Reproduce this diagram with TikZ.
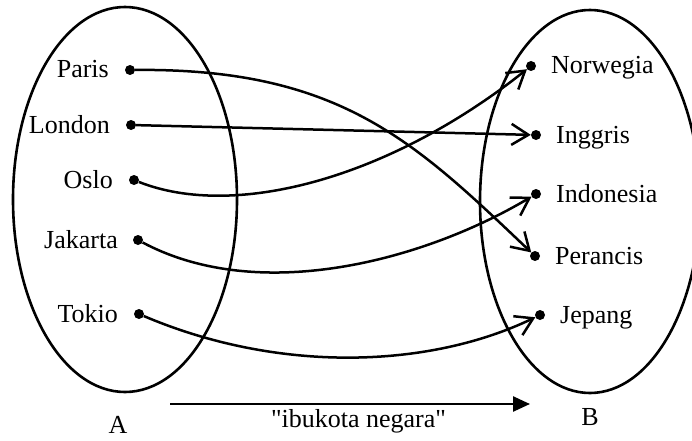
\documentclass[tikz,border=0pt]{standalone}
\usepackage{fontspec}
\newfontfamily\tnr{Liberation Serif}
\usetikzlibrary{arrows.meta}
\begin{document}
\begin{tikzpicture}[x=1pt,y=1pt,
  setline/.style={line width=2.6pt},
  dot/.style={circle,fill=black,inner sep=0pt,minimum size=10pt},
  lbl/.style={font=\tnr\fontsize{26}{30}\selectfont,inner sep=0pt},
  conn/.style={line width=2.5pt,-{Straight Barb[length=17pt,width=21pt]}},
  relarrow/.style={line width=2.5pt,-{Triangle[length=17pt,width=15pt]}}]
\useasboundingbox (0,0) rectangle (692,440);
\clip (0,0) rectangle (692,440);
% sets
\draw[setline] (125,240.5) ellipse [x radius=112, y radius=192.5];
\draw[setline] (590,238.5) ellipse [x radius=110, y radius=191.5];
% domain dots
\node[dot] (paris) at (130,370) {};
\node[dot] (london) at (131,315) {};
\node[dot] (oslo) at (134,260) {};
\node[dot] (jakarta) at (138,200) {};
\node[dot] (tokio) at (139,126) {};
% codomain dots
\node[dot] (norwegia) at (531,374) {};
\node[dot] (inggris) at (536,305) {};
\node[dot] (indonesia) at (536,246) {};
\node[dot] (perancis) at (535,184) {};
\node[dot] (jepang) at (540,125) {};
% labels left
\node[lbl,anchor=base east] (tparis) at ([xshift=-21pt,yshift=-8pt]paris.center) {Paris};
\node[lbl,anchor=base east] (tlondon) at ([xshift=-21pt,yshift=-8pt]london.center) {London};
\node[lbl,anchor=base east] (toslo) at ([xshift=-21pt,yshift=-8pt]oslo.center) {Oslo};
\node[lbl,anchor=base east] (tjakarta) at ([xshift=-20pt,yshift=-8pt]jakarta.center) {Jakarta};
\node[lbl,anchor=base east] (ttokio) at ([xshift=-21pt,yshift=-8pt]tokio.center) {Tokio};
% labels right
\node[lbl,anchor=base west] (tnorwegia) at ([xshift=20pt,yshift=-8pt]norwegia.center) {Norwegia};
\node[lbl,anchor=base west] (tinggris) at ([xshift=20pt,yshift=-8pt]inggris.center) {Inggris};
\node[lbl,anchor=base west] (tindonesia) at ([xshift=20pt,yshift=-8pt]indonesia.center) {Indonesia};
\node[lbl,anchor=base west] (tperancis) at ([xshift=20pt,yshift=-8pt]perancis.center) {Perancis};
\node[lbl,anchor=base west] (tjepang) at ([xshift=20pt,yshift=-8pt]jepang.center) {Jepang};
% mapping arrows
\draw[conn] (paris) .. controls (340,372) and (415,298) .. (perancis);
\draw[conn] (london) -- (inggris);
\draw[conn] (oslo) .. controls (235,220) and (390,262) .. (norwegia);
\draw[conn] (jakarta) .. controls (260,135) and (425,180) .. (indonesia);
\draw[conn] (tokio) .. controls (280,66) and (430,72) .. (jepang);
% set names and relation
\node[lbl,anchor=base] (setA) at (118,7) {A};
\node[lbl,anchor=base] (setB) at (590,15) {B};
\coordinate (rs) at (170,36);
\coordinate (re) at (530,36);
\draw[relarrow] (rs) -- (re);
\node[lbl,anchor=base] (rel) at (358.5,13) {"ibukota negara"};
\end{tikzpicture}
\end{document}
